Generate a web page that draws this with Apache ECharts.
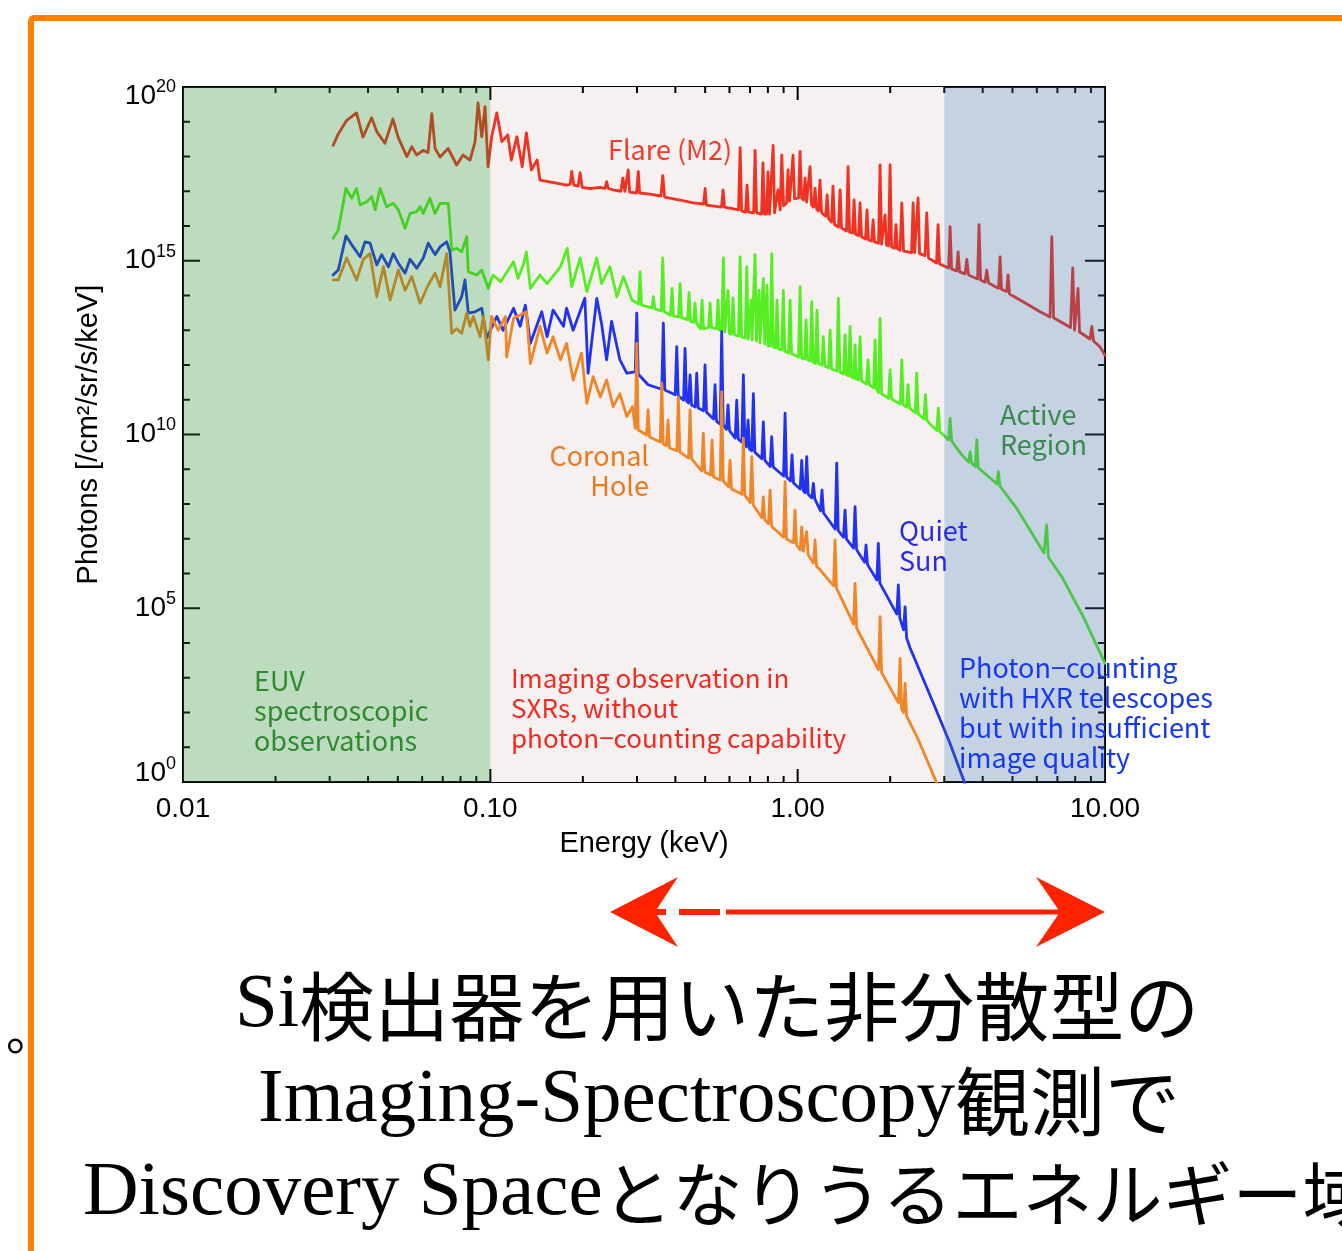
<!DOCTYPE html>
<html>
<head>
<meta charset="utf-8">
<script src="https://cdn.jsdelivr.net/npm/echarts@6/dist/echarts.min.js"></script>
<style>
html,body{margin:0;padding:0;background:#fff;}
#chart{width:1342px;height:1251px;}
</style>
</head>
<body>
<div id="chart"></div>
<script>
// ---------- data: [energy keV, photons /cm2/sr/s/keV] ----------
const flareSpectrum = [
[0.0308,2.1e18],[0.0319,4.2e18],[0.0341,1.1e19],[0.0367,1.8e19],[0.0385,3.6e18],[0.0411,1.3e19],[0.0427,5.2e18],[0.0454,2.4e18],[0.0482,1.2e19],[0.0501,3.6e18],
[0.0535,9.9e17],[0.0555,1.9e18],[0.0576,1.1e18],[0.0604,1.5e18],[0.0627,1.3e18],[0.0645,1.7e19],[0.0661,1.7e18],[0.0686,9.7e17],[0.0729,1.7e18],[0.0777,5.7e17],
[0.0815,1.1e18],[0.0859,7.9e17],[0.0892,2.7e18],[0.0912,3.5e19],[0.0938,3.7e18],[0.0961,2.7e19],[0.0983,5.1e17],[0.101,3.7e18],[0.105,1.8e19],[0.109,2.7e18],
[0.114,4.2e18],[0.117,7.9e17],[0.122,3.7e18],[0.127,5.1e17],[0.131,4.8e18],[0.136,4.1e17],[0.142,7.9e17],
[0.145,2.1e17],[0.164,1.7e17],[0.177,1.5e17],[0.182,1.6e17],[0.184,3.7e17],[0.187,1.5e17],[0.193,1.4e17],[0.196,3.4e17],[0.199,1.3e17],[0.211,1.2e17],
[0.228,1.3e17],[0.236,1.2e17],[0.239,1.9e17],[0.242,1.2e17],[0.251,1.1e17],[0.266,1.0e17],[0.270,2.4e17],[0.274,1.0e17],[0.281,4.1e17],[0.284,9.5e16],
[0.299,8.9e16],[0.303,3.7e17],[0.306,8.9e16],[0.331,8.3e16],[0.359,7.3e16],[0.364,2.8e17],[0.369,6.8e16],[0.414,5.6e16],[0.457,4.6e16],[0.494,4.3e16],
[0.500,1.2e17],[0.505,4.0e16],[0.565,3.5e16],[0.572,1.1e17],[0.578,3.5e16],[0.642,2.9e16],[0.650,1.8e18],[0.657,2.7e16],
[0.6768,2.5e16],[0.6844,1.5e17],[0.6922,2.5e16],
[0.719,2.4e16],[0.727,1.5e18],[0.735,2.4e16],[0.763,2.2e16],[0.771,6.5e17],[0.780,2.2e16],
[0.7919,2.2e16],[0.8009,3.6e17],[0.8099,2.2e16],
[0.822,2.2e16],[0.832,2.1e18],[0.841,2.4e16],
[0.8534,2.6e16],[0.8631,1.1e17],
[0.877,2.9e16],[0.888,1.1e18],[0.900,3.8e16],
[0.9201,4.6e16],[0.9305,4.1e17],[0.9410,5.2e16],
[0.955,5.6e16],[0.966,1.1e18],[0.977,6.0e16],[1.007,6.4e16],[1.018,1.4e18],[1.030,6.4e16],
[1.045,5.6e16],[1.057,2.4e17],[1.069,4.9e16],
[1.085,4.6e16],[1.097,5.1e17],[1.110,4.0e16],
[1.126,3.5e16],[1.139,1.2e17],[1.152,3.1e16],
[1.169,2.7e16],[1.182,2.1e17],[1.196,2.4e16],
[1.233,1.9e16],[1.247,7.8e16],[1.261,1.6e16],
[1.289,1.3e16],[1.303,1.4e17],[1.318,1.1e16],
[1.358,9.4e15],[1.374,1.1e17],[1.389,8.8e15],
[1.442,7.2e15],[1.459,5.1e17],[1.475,6.7e15],
[1.509,6.3e15],[1.526,5.6e16],[1.543,5.9e15],
[1.578,5.2e15],[1.596,4.6e16],[1.614,4.8e15],
[1.663,4.2e15],[1.681,2.9e16],[1.700,4.0e15],
[1.740,3.7e15],[1.760,1.5e16],[1.779,3.5e15],[1.833,3.2e15],[1.854,5.7e17],[1.875,3.0e15],
[1.903,2.8e15],[1.924,2.1e16],[1.946,2.8e15],
[1.976,2.7e15],[1.998,5.7e17],[2.021,2.5e15],
[2.066,2.3e15],[2.089,1.1e16],[2.113,2.2e15],
[2.154,2.0e15],[2.182,4.6e16],[2.211,1.9e15],[2.348,1.7e15],[2.375,4.6e16],[2.402,1.7e15],[2.438,1.6e15],[2.465,6.4e16],[2.493,1.6e15],[2.597,1.4e15],
[2.630,2.4e16],[2.666,1.2e15],[2.831,8.6e14],[2.863,1.1e16],[2.895,8.1e14],[3.098,6.2e14],[3.133,9.5e15],[3.169,5.8e14],[3.290,5.1e14],[3.327,1.8e15],
[3.365,4.8e14],[3.506,4.2e14],[3.551,1.1e15],[3.599,3.9e14],[3.848,3.0e14],[3.892,1.1e16],[3.936,2.8e14],[4.071,2.4e14],[4.123,5.4e14],[4.179,2.3e14],
[4.505,1.6e14],[4.556,1.3e15],[4.607,1.5e14],[4.783,1.3e14],[4.837,3.9e14],[4.891,1.1e14],[5.293,7.4e13],[6.149,3.4e13],[6.627,2.4e13],[6.712,4.9e15],
[6.803,2.3e13],[7.725,1.2e13],[7.853,6.2e14],[7.960,1.0e13],[8.080,9.5e12],[8.171,1.6e14],[8.263,8.9e12],[8.941,5.6e12],[9.056,1.3e13],[9.179,4.9e12],
[9.638,3.3e12],[10.0,1.9e12]];

const activeRegionSpectrum = [
[0.0308,4.4e15],[0.0320,7.7e15],[0.0339,1.2e17],[0.0354,6.3e16],[0.0367,1.2e17],[0.0377,4.0e16],[0.0396,5.0e16],[0.0411,7.0e16],[0.0422,2.9e16],[0.0438,1.2e17],
[0.0460,3.6e16],[0.0483,4.5e16],[0.0502,2.9e16],[0.0528,8.6e15],[0.0548,2.3e16],[0.0576,2.6e16],[0.0591,3.6e16],[0.0605,2.3e16],[0.0636,6.3e16],[0.0661,2.3e16],
[0.0686,4.5e16],[0.0730,4.5e16],[0.0749,2.0e15],[0.0777,2.3e15],[0.0807,1.8e15],[0.0838,4.9e15],[0.0848,4.8e14],[0.0903,3.9e14],[0.0938,5.4e14],[0.0985,1.6e14],
[0.102,3.9e14],[0.108,2.5e14],[0.119,9.4e14],[0.123,3.1e14],[0.128,7.6e14],[0.131,1.8e15],[0.135,1.6e14],[0.145,3.9e14],[0.153,2.2e14],[0.169,6.7e14],
[0.178,2.3e15],[0.184,1.8e14],[0.196,1.2e15],[0.206,1.3e14],[0.222,1.2e15],[0.230,2.2e14],[0.245,6.7e14],[0.258,9.2e13],[0.271,3.5e14],[0.289,7.4e13],
[0.3036,5.7e13],[0.3070,4.8e14],[0.3105,5.3e13],[0.3354,4.4e13],[0.3392,9.2e13],[0.3430,4.1e13],[0.3598,3.6e13],[0.3639,1.2e15],[0.3680,3.4e13],
[0.3857,2.7e13],[0.3901,1.6e14],[0.3945,2.6e13],[0.4097,2.4e13],[0.4144,2.2e14],[0.4190,2.3e13],[0.4383,2.0e13],[0.4432,1.2e14],[0.4482,1.8e13],
[0.4583,1.7e13],[0.4635,6.0e13],[0.4688,1.6e13],[0.4829,1.1e13],[0.4884,7.4e13],[0.4940,1.1e13],
[0.5129,1.2e13],[0.5187,6.0e13],[0.5245,1.2e13],[0.5445,1.1e13],[0.5507,7.4e13],[0.5569,1.0e13],
[0.5665,9.5e12],[0.5729,1.2e15],[0.5794,8.9e12],[0.5868,8.3e12],[0.5934,1.4e14],[0.6001,7.8e12],
[0.6093,7.8e12],[0.6162,8.5e13],[0.6232,7.3e12],[0.6424,6.8e12],[0.6496,1.3e15],[0.6569,6.4e12],
[0.6753,6.0e12],[0.6829,6.7e14],[0.6906,5.6e12],[0.6998,5.2e12],[0.7051,7.4e13],[0.7104,5.2e12],
[0.7185,5.2e12],[0.7266,1.5e15],[0.7348,4.9e12],[0.7430,4.6e12],[0.7486,1.4e14],[0.7542,4.3e12],
[0.7645,4.3e12],[0.7731,3.1e14],[0.7819,4.0e12],[0.7890,3.8e12],[0.7950,2.0e14],[0.8009,3.5e12],
[0.8140,3.5e12],[0.8232,1.6e15],[0.8325,3.3e12],[0.8472,3.1e12],[0.8567,7.4e13],[0.8664,2.9e12],
[0.8880,2.7e12],[0.8981,1.4e14],[0.9082,2.5e12],[0.9340,2.2e12],[0.9445,7.4e13],[0.9552,2.1e12],
[1.007,1.7e12],[1.018,1.8e14],[1.030,1.6e12],[1.053,1.5e12],[1.065,2.0e13],[1.077,1.4e12],
[1.099,1.3e12],[1.111,6.6e13],[1.124,1.2e12],[1.143,1.1e12],[1.156,3.8e13],[1.169,1.1e12],
[1.199,1.0e12],[1.212,6.5e12],[1.226,9.4e11],[1.261,8.2e11],[1.275,1.0e13],[1.289,7.7e11],
[1.341,6.7e11],[1.356,8.3e13],[1.372,6.3e11],[1.410,5.5e11],[1.426,7.3e12],[1.442,5.2e11],
[1.464,4.8e11],[1.481,1.3e13],[1.497,4.5e11],[1.526,4.2e11],[1.537,3.8e12],[1.549,4.0e11],
[1.578,3.7e11],[1.596,6.5e12],[1.614,3.5e11],[1.675,2.8e11],[1.694,1.4e12],[1.713,2.7e11],
[1.766,2.2e11],[1.786,5.2e12],[1.806,2.0e11],[1.833,1.6e11],[1.854,2.2e13],[1.875,1.5e11],
[1.976,1.1e11],[1.998,7.2e11],[2.021,1.05e11],[2.157,7.5e10],[2.182,1.4e12],[2.206,7.1e10],
[2.262,6.2e10],[2.287,2.7e11],[2.312,5.8e10],[2.413,4.2e10],[2.440,5.8e11],[2.468,3.9e10],
[2.575,2.8e10],[2.604,1.4e11],[2.634,2.6e10],
[2.696,2.0e10],[2.837,1.3e10],[2.869,5.7e10],[2.901,1.2e10],[3.098,7.0e9],[3.133,2.9e10],[3.169,6.5e9],[3.420,2.6e9],[3.599,1.6e9],[3.640,3.2e9],
[3.681,1.5e9],[3.784,1.2e9],[3.827,7.0e9],[3.869,1.1e9],[4.227,5.6e8],[4.448,3.8e8],[4.498,8.5e8],[4.549,3.3e8],[5.16,7.5e7],[6.33,3.9e6],
[6.46,2.5e7],[6.54,3.0e6],[7.23,8.1e5],[8.50,5.7e4],[10.0,2.6e3]];

const quietSunSpectrum = [
[0.0308,3.9e14],[0.0320,5.4e14],[0.0339,5.2e15],[0.0358,2.5e15],[0.0377,1.3e15],[0.0391,3.5e15],[0.0406,3.2e15],[0.0427,7.6e14],[0.0443,1.5e15],[0.0466,6.7e14],
[0.0483,1.6e15],[0.0502,8.5e14],[0.0528,4.4e14],[0.0548,1.1e15],[0.0576,6.1e14],[0.0605,1.2e15],[0.0628,3.2e15],[0.0661,1.5e15],[0.0686,2.5e15],[0.0721,3.5e15],
[0.0739,1.8e15],[0.0767,3.8e13],[0.0807,9.2e13],[0.0827,2.8e14],[0.0848,3.1e13],[0.0892,3.4e13],[0.0938,4.3e13],[0.0973,5.9e12],[0.105,2.5e13],[0.110,1.0e13],
[0.119,4.3e13],[0.125,1.3e13],[0.130,5.3e13],[0.135,4.2e12],[0.147,3.4e13],[0.153,6.5e12],[0.160,3.8e13],[0.173,1.3e13],[0.177,4.3e13],[0.186,1.0e13],
[0.203,8.3e13],[0.208,5.8e11],[0.222,8.3e13],[0.230,1.6e13],[0.239,1.4e12],[0.248,1.8e13],[0.264,1.4e12],[0.278,5.8e11],
[0.2962,6.3e11],[0.2995,3.1e13],[0.3028,5.5e11],[0.3260,2.7e11],[0.3614,2.0e11],[0.3655,1.6e13],[0.3696,1.9e11],[0.3996,1.4e11],[0.4041,3.4e12],[0.4087,1.3e11],
[0.4253,9.8e10],[0.4301,3.0e12],[0.4350,9.2e10],[0.4416,8.1e10],[0.4466,5.2e11],[0.4516,7.1e10],
[0.4642,6.2e10],[0.4694,5.8e11],[0.4747,5.8e10],[0.4940,4.8e10],[0.4996,1.0e12],[0.5052,4.4e10],
[0.5324,2.8e10],[0.5384,2.7e11],[0.5445,2.4e10],[0.5597,2.0e10],[0.5660,9.1e12],[0.5725,1.9e10],
[0.5868,1.4e10],[0.5934,7.1e10],[0.6001,1.3e10],[0.6264,7.9e9],[0.6335,9.8e10],[0.6407,7.4e9],
[0.6582,6.1e9],[0.6657,5.2e11],[0.6732,5.7e9],[0.6819,4.4e9],[0.6896,2.6e10],[0.6973,3.8e9],
[0.7095,3.4e9],[0.7175,1.5e11],[0.7256,3.1e9],[0.7645,2.0e9],[0.7731,2.3e10],[0.7819,1.8e9],
[0.8140,1.2e9],[0.8232,8.6e9],[0.8325,1.16e9],[0.8998,6.4e8],[0.9100,4.1e10],[0.9201,6.0e8],
[0.9480,4.6e8],[0.9588,2.6e9],[0.9696,4.0e8],
[1.019,2.7e8],[1.031,1.8e9],[1.043,2.4e8],[1.058,2.1e8],[1.070,2.3e9],[1.082,1.9e8],[1.112,1.5e8],[1.125,3.9e8],[1.137,1.4e8],
[1.187,6.3e7],[1.200,2.5e8],[1.214,5.5e7],[1.325,1.9e7],[1.340,1.5e9],[1.355,1.7e7],
[1.410,1.1e7],[1.426,6.7e7],[1.442,9.8e6],[1.520,5.4e6],[1.537,8.4e7],[1.555,4.8e6],
[1.651,2.1e6],[1.669,6.6e6],[1.688,1.8e6],[1.810,6.5e5],[1.830,7.4e6],[1.851,5.3e5],[2.102,6.8e4],
[2.126,4.7e5],[2.150,5.2e4],[2.211,2.4e4],[2.236,1.1e5],[2.262,1.4e4],[2.322,7.2e3],[2.76,1.9e2],[3.13,13],[3.50,0.9]];

const coronalHoleSpectrum = [
[0.0308,2.8e14],[0.0320,2.8e14],[0.0341,1.2e15],[0.0367,2.8e14],[0.0386,1.1e15],[0.0406,1.6e15],[0.0427,9.2e13],[0.0449,6.7e14],[0.0472,7.4e13],[0.0502,5.4e14],
[0.0528,1.4e14],[0.0555,3.5e14],[0.0591,6.0e13],[0.0628,2.0e14],[0.0661,4.4e14],[0.0686,1.8e14],[0.0721,1.6e15],[0.0749,8.2e12],[0.0777,1.1e13],[0.0807,8.2e12],
[0.0838,3.1e13],[0.0859,1.3e13],[0.0880,2.5e13],[0.0926,6.5e12],[0.0949,2.5e13],[0.0985,1.4e12],[0.101,2.5e13],[0.106,1.0e13],[0.112,2.5e13],[0.113,1.7e12],
[0.119,2.2e13],[0.131,3.4e13],[0.135,1.1e12],[0.145,1.3e13],[0.153,2.2e12],[0.160,6.5e12],[0.169,1.4e12],[0.177,4.2e12],[0.186,3.7e11],[0.198,2.2e12],
[0.206,7.9e10],[0.216,4.6e11],[0.228,1.2e11],[0.239,3.7e11],[0.251,6.3e10],[0.264,1.5e11],[0.278,3.3e10],[0.290,6.3e10],
[0.2962,1.5e10],[0.2995,4.2e12],[0.3028,1.35e10],[0.3223,9.7e9],[0.3260,5.1e10],[0.3297,8.5e9],
[0.3571,6.1e9],[0.3612,3.0e11],[0.3652,5.3e9],[0.3743,4.7e9],[0.3785,2.6e10],[0.3828,4.1e9],
[0.4045,3.4e9],[0.4091,1.2e11],[0.4137,3.1e9],[0.4416,2.1e9],[0.4466,5.1e10],[0.4516,2.0e9],
[0.4876,8.9e8],[0.4931,1.1e10],[0.4987,8.3e8],[0.5206,6.8e8],[0.5265,7.0e9],[0.5324,6.0e8],
[0.5597,4.9e8],[0.5660,1.7e11],[0.5725,4.6e8],[0.5957,3.1e8],[0.6025,1.8e9],[0.6093,2.7e8],
[0.6582,1.9e8],[0.6657,7.8e9],[0.6732,1.8e8],[0.7010,1.1e8],[0.7090,2.3e9],[0.7170,9.4e7],
[0.7645,4.0e7],[0.7731,1.6e8],[0.7819,3.5e7],[0.8039,2.7e7],[0.8130,2.5e8],[0.8224,2.3e7],
[0.8998,1.1e7],[0.9100,4.4e8],[0.9201,9.8e6],[0.9696,7.6e6],[0.9805,6.7e7],[0.9916,6.6e6],
[1.019,4.8e6],[1.031,2.2e7],[1.043,4.4e6],[1.058,3.9e6],[1.070,1.6e7],[1.082,3.4e6],
[1.126,2.0e6],[1.139,9.2e6],[1.152,1.6e6],[1.182,1.3e6],[1.309,4.4e5],[1.323,9.2e6],
[1.338,3.8e5],[1.520,3.5e4],[1.537,5.2e5],[1.555,2.7e4],[1.799,2.3e3],[1.833,1.7e3],[1.854,5.7e4],[1.875,1.4e3],[2.129,1.9e2],[2.154,3.6e3],
[2.178,1.3e2],[2.211,1.0e2],[2.236,6.9e2],[2.262,79],[2.445,20],[2.841,0.9]];

// axis ticks and labels
const xRange = [0.01, 10];
const yRange = [1, 1e20];
const xTickLabels = ['0.01', '0.10', '1.00', '10.00'];
const xMajorTicks = [0.1, 1];
const xMinorTicks = [0.02,0.03,0.04,0.05,0.06,0.07,0.08,0.09,
                     0.2,0.3,0.4,0.5,0.6,0.7,0.8,0.9,
                     2,3,4,5,6,7,8,9];
const yTicks = [1,1e1,1e2,1e3,1e4,1e5,1e6,1e7,1e8,1e9,1e10,1e11,1e12,1e13,1e14,1e15,1e16,1e17,1e18,1e19,1e20];
const yMajorTicks = [1,1e5,1e10,1e15,1e20];
const yLabelExps = ['0','5','10','15','20'];
// observation regimes (keV)
const euvRange = [0.01, 0.1];
const sxrRange = [0.1, 3.0];
const hxrRange = [3.0, 10];

// ---------- chart ----------
const axisFont = '"Liberation Sans", Arial, sans-serif';
const noteFont = '"Noto Sans CJK JP", sans-serif';
const chart = echarts.init(document.getElementById('chart'), null, {renderer: 'canvas'});

function lineSeries(name, data, color) {
  return {
    name, type: 'line', data, showSymbol: false, symbol: 'none', clip: true,
    lineStyle: {color, width: 2.8, join: 'round', cap: 'round'}, z: 2, animation: false, silent: true
  };
}

const bigRich = {
  lat: {fontSize: 77, fontFamily: '"Liberation Serif", "Times New Roman", serif', fill: '#000'},
  cjk: {fontSize: 75, fontFamily: '"Noto Sans CJK JP", sans-serif', fill: '#000'},
  cjk3: {fontSize: 70, fontFamily: '"Noto Sans CJK JP", sans-serif', fill: '#000'}
};

const option = {
  animation: false,
  backgroundColor: '#fff',
  grid: {left: 183, right: 237, top: 87, bottom: 469, show: true,
         borderColor: '#000', borderWidth: 2, backgroundColor: 'transparent'},
  xAxis: {
    type: 'log', logBase: 10, min: xRange[0], max: xRange[1],
    axisLine: {show: false}, axisTick: {show: false}, splitLine: {show: false},
    axisLabel: {
      show: true, showMinLabel: true, showMaxLabel: true,
      formatter: v => {
        const idx = Math.round(Math.log10(v)) + 2;
        return xTickLabels[idx] !== undefined ? xTickLabels[idx] : '';
      },
      fontSize: 28, color: '#000', margin: 13, fontFamily: axisFont
    },
    name: 'Energy (keV)', nameLocation: 'middle', nameGap: 47,
    nameTextStyle: {fontSize: 29, color: '#000', fontFamily: axisFont}
  },
  yAxis: {
    type: 'log', logBase: 10, min: yRange[0], max: yRange[1],
    axisLine: {show: false}, axisTick: {show: false}, splitLine: {show: false},
    axisLabel: {show: false},
    name: 'Photons [/cm²/sr/s/keV]', nameLocation: 'middle', nameGap: 80, nameRotate: 90,
    nameTextStyle: {fontSize: 29, color: '#000', fontFamily: axisFont}
  },
  series: [
    { // SXR background band (under the spectra)
      type: 'line', data: [], silent: true,
      markArea: {silent: true, z: 1,
        itemStyle: {color: '#f6f1f0'},
        data: [[{xAxis: sxrRange[0]}, {xAxis: sxrRange[1]}]]}
    },
    lineSeries('Flare (M2)', flareSpectrum, '#f03222'),
    lineSeries('Active Region', activeRegionSpectrum, '#55ee22'),
    lineSeries('Quiet Sun', quietSunSpectrum, '#2233ee'),
    lineSeries('Coronal Hole', coronalHoleSpectrum, '#f08628'),
    { // x ticks (bottom and top, pointing inward)
      type: 'custom', z: 3, silent: true, clip: false,
      data: xMinorTicks.map(v => [v, yRange[0], 0]).concat(xMajorTicks.map(v => [v, yRange[0], 1])),
      encode: {x: 0, y: 1},
      renderItem: (params, api) => {
        const v = api.value(0), major = api.value(2);
        const b = api.coord([v, yRange[0]]), t = api.coord([v, yRange[1]]);
        const len = major ? 13 : 6;
        const st = {stroke: '#000', lineWidth: 2};
        return {type: 'group', children: [
          {type: 'line', shape: {x1: b[0], y1: b[1], x2: b[0], y2: b[1] - len}, style: st},
          {type: 'line', shape: {x1: t[0], y1: t[1], x2: t[0], y2: t[1] + len}, style: st}
        ]};
      }
    },
    { // y ticks (left and right, pointing inward)
      type: 'custom', z: 3, silent: true, clip: false,
      data: yTicks.map(v => [xRange[0], v, yMajorTicks.indexOf(v) >= 0 ? 1 : 0]),
      encode: {x: 0, y: 1},
      renderItem: (params, api) => {
        const v = api.value(1), major = api.value(2);
        const l = api.coord([xRange[0], v]), r = api.coord([xRange[1], v]);
        const ll = major ? 17 : 7, rl = major ? 20 : 7;
        const st = {stroke: '#000', lineWidth: 2};
        return {type: 'group', children: [
          {type: 'line', shape: {x1: l[0], y1: l[1], x2: l[0] + ll, y2: l[1]}, style: st},
          {type: 'line', shape: {x1: r[0], y1: r[1], x2: r[0] - rl, y2: r[1]}, style: st}
        ]};
      }
    },
    { // y tick labels 10^n
      type: 'custom', z: 3, silent: true, clip: false,
      data: yMajorTicks.map((v, i) => [xRange[0], v, i]),
      encode: {x: 0, y: 1},
      renderItem: (params, api) => {
        const v = api.value(1), i = api.value(2);
        const p = api.coord([xRange[0], v]);
        const dy = v === yRange[1] ? 9 : (v === yRange[0] ? -9 : 0);
        return {type: 'text', x: p[0] - 7, y: p[1] + dy, style: {
          text: '{b|10}{s|' + yLabelExps[i] + '}',
          align: 'right', verticalAlign: 'middle',
          rich: {
            b: {fontSize: 28, lineHeight: 36, fontFamily: axisFont, fill: '#000'},
            s: {fontSize: 18, lineHeight: 18, fontFamily: axisFont, fill: '#000', verticalAlign: 'top'}
          }
        }};
      }
    },
    { // translucent EUV / HXR bands drawn over the spectra
      type: 'line', data: [], silent: true,
      markArea: {silent: true, z: 10,
        data: [
          [{xAxis: euvRange[0], itemStyle: {color: 'rgba(35,138,42,0.3)'}}, {xAxis: euvRange[1]}],
          [{xAxis: hxrRange[0], itemStyle: {color: 'rgba(58,105,158,0.3)'}}, {xAxis: hxrRange[1]}]
        ]}
    }
  ],
  graphic: [
    {type: 'rect', z: 100, shape: {x: 31, y: 18, width: 1400, height: 1400, r: 3},
     style: {fill: 'none', stroke: '#ff8000', lineWidth: 6}},
    {type: 'text', z: 100, x: 608, y: 150, style: {text: 'Flare (M2)', font: '27px ' + noteFont, fill: '#f03a2a', align: 'left', verticalAlign: 'middle'}},
    {type: 'text', z: 100, x: 1000, y: 400, style: {text: 'Active\nRegion', font: '27px ' + noteFont, lineHeight: 30, fill: '#3a8a4e', align: 'left', verticalAlign: 'top'}},
    {type: 'text', z: 100, x: 649, y: 441, style: {text: 'Coronal\nHole', font: '27px ' + noteFont, lineHeight: 30, fill: '#e8791e', align: 'right', verticalAlign: 'top'}},
    {type: 'text', z: 100, x: 899, y: 516, style: {text: 'Quiet\nSun', font: '27px ' + noteFont, lineHeight: 30, fill: '#2a2ae6', align: 'left', verticalAlign: 'top'}},
    {type: 'text', z: 100, x: 254, y: 666, style: {text: 'EUV\nspectroscopic\nobservations', font: '27px ' + noteFont, lineHeight: 30, fill: '#2f8a2f', align: 'left', verticalAlign: 'top'}},
    {type: 'text', z: 100, x: 511, y: 663, style: {text: 'Imaging observation in\nSXRs, without\nphoton\u2212counting capability', font: '26px ' + noteFont, lineHeight: 30, fill: '#f02a20', align: 'left', verticalAlign: 'top'}},
    {type: 'text', z: 100, x: 959, y: 653, style: {text: 'Photon\u2212counting\nwith HXR telescopes\nbut with insufficient\nimage quality', font: '27px ' + noteFont, lineHeight: 30, fill: '#1538f5', align: 'left', verticalAlign: 'top'}},
    // arrow
    {type: 'polygon', z: 100, shape: {points: [[610,912],[678,877],[655,912],[678,947]]}, style: {fill: '#ff2200'}},
    {type: 'polygon', z: 100, shape: {points: [[1105,912],[1036,877],[1060,912],[1036,947]]}, style: {fill: '#ff2200'}},
    {type: 'line', z: 100, shape: {x1: 653, y1: 912, x2: 666, y2: 912}, style: {stroke: '#ff2200', lineWidth: 6}},
    {type: 'line', z: 100, shape: {x1: 679, y1: 912, x2: 720, y2: 912}, style: {stroke: '#ff2200', lineWidth: 6}},
    {type: 'line', z: 100, shape: {x1: 726, y1: 912, x2: 1062, y2: 912}, style: {stroke: '#ff2200', lineWidth: 5}},
    // bottom text
    {type: 'text', z: 100, x: 235, y: 1006, style: {text: '{lat|Si}{cjk|検出器を用いた非分散型の}', rich: bigRich, align: 'left', verticalAlign: 'middle'}},
    {type: 'text', z: 100, x: 258, y: 1101, style: {text: '{lat|Imaging-Spectroscopy}{cjk|観測で}', rich: bigRich, align: 'left', verticalAlign: 'middle'}},
    {type: 'text', z: 100, x: 83, y: 1194, style: {text: '{lat|Discovery Space}{cjk3|となりうるエネルギー域}', rich: bigRich, align: 'left', verticalAlign: 'middle'}},
    {type: 'text', z: 100, x: 6, y: 1032, style: {text: '。', font: '48px "Noto Sans CJK JP"', fill: '#000', align: 'left', verticalAlign: 'middle'}}
  ]
};
chart.setOption(option);
</script>
</body>
</html>
